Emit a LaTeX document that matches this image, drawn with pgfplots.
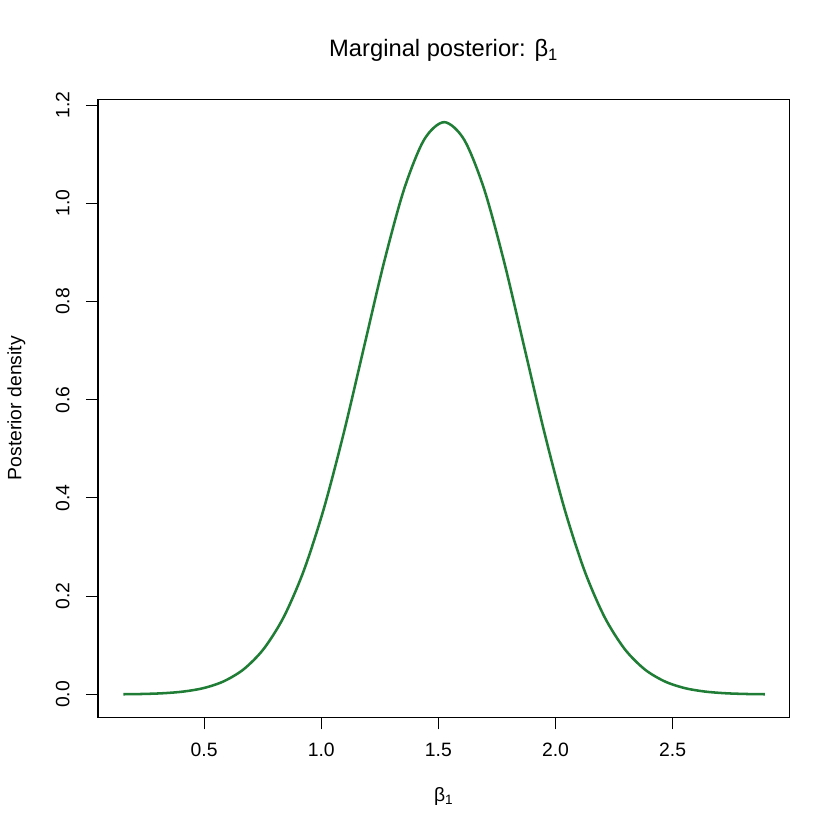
\documentclass[border=0pt]{standalone}
\usepackage{fontspec}
\setmainfont{Liberation Sans}
\usepackage{pgfplots}
\pgfplotsset{compat=1.18}
\definecolor{postgreen}{HTML}{1F7D36}

\begin{document}
\begin{tikzpicture}[x=1pt,y=1pt]
% page = 840 x 840 px, 1 px = 0.75 pt
\path[use as bounding box] (-73.5,-92) rectangle (556.5,538);
\begin{axis}[
    at={(0,0)}, anchor=south west,
    scale only axis,
    width=518.5pt, height=463.7pt,
    xmin=0.047, xmax=2.998,
    ymin=-0.0466, ymax=1.2121,
    xtick={0.5,1.0,1.5,2.0,2.5},
    ytick={0,0.2,0.4,0.6,0.8,1.0,1.2},
    xtick pos=bottom, ytick pos=left,
    tick align=outside,
    major tick length=9pt,
    tick style={black, line width=0.75pt},
    axis line style={line width=0.8pt},
    /pgf/number format/assume math mode=true,
    /pgf/number format/fixed,
    /pgf/number format/fixed zerofill,
    /pgf/number format/precision=1,
    xticklabel style={font=\fontsize{14.5}{16}\selectfont, anchor=base, yshift=-20.5pt},
    yticklabel style={font=\fontsize{14.5}{16}\selectfont, anchor=base, xshift=-12.5pt, rotate=90},
    clip=false,
]
\addplot[postgreen, line width=1.9pt, smooth] coordinates {
    (0.1552,0.0004) (0.2408,0.0010) (0.3264,0.0025) (0.4120,0.0059)
    (0.4975,0.0129) (0.5831,0.0266) (0.6687,0.0512) (0.7543,0.0927)
    (0.8399,0.1577) (0.9254,0.2520) (1.0110,0.3783) (1.0966,0.5334)
    (1.1822,0.7067) (1.2678,0.8795) (1.3533,1.0282) (1.4389,1.1293)
    (1.5245,1.1651)
    (1.6101,1.1293) (1.6957,1.0282) (1.7812,0.8795) (1.8668,0.7067)
    (1.9524,0.5334) (2.0380,0.3783) (2.1236,0.2520) (2.2091,0.1577)
    (2.2947,0.0927) (2.3803,0.0512) (2.4659,0.0266) (2.5515,0.0129)
    (2.6370,0.0059) (2.7226,0.0025) (2.8082,0.0010) (2.8938,0.0004)
};
% titles and labels
\node[anchor=base, font=\fontsize{17.8}{21}\selectfont] at ([yshift=31.7pt]rel axis cs:0.5,1)
    {Marginal posterior: β\textsubscript{1}};
\node[anchor=base, font=\fontsize{14.5}{16}\selectfont] at ([yshift=-63pt]rel axis cs:0.5,0)
    {β\textsubscript{1}};
\node[anchor=base, rotate=90, font=\fontsize{14.5}{16}\selectfont] at ([xshift=-57.5pt]rel axis cs:0,0.5)
    {Posterior density};
\end{axis}
\end{tikzpicture}
\end{document}
